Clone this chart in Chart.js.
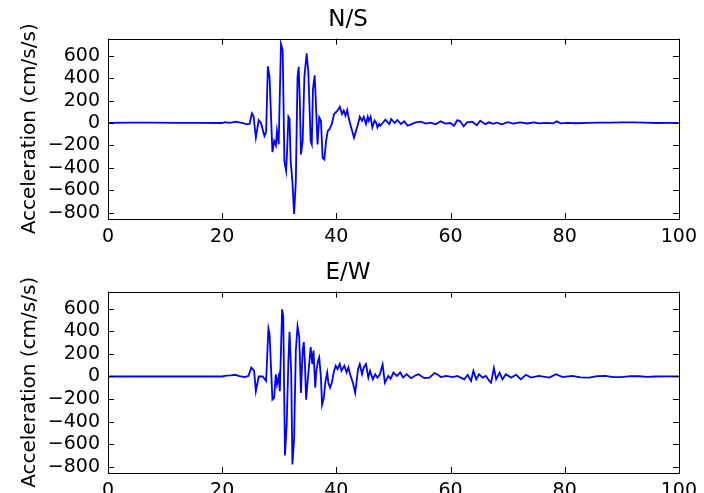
<!DOCTYPE html>
<html>
<head>
<meta charset="utf-8">
<script src="https://cdn.jsdelivr.net/npm/chart.js@4"></script>
<style>
  body { margin: 0; background: #fff; }
  #lienzo { position: relative; width: 704px; height: 493px; overflow: hidden; }
  canvas { position: absolute; left: 0; }
</style>
</head>
<body>
<div id="lienzo">
  <canvas id="graficoNS" width="704" height="247" style="top:0"></canvas>
  <canvas id="graficoEW" width="704" height="246" style="top:247px"></canvas>
</div>
<script>
const tiemposNS = [
  0, 4, 8, 12, 16, 20, 20.5, 21.2, 21.8, 22.3,
  23.0, 23.6, 24.2, 24.8, 25.2, 25.5, 25.9, 26.4, 26.8, 27.4,
  27.7, 28.0, 28.3, 28.8, 29.1, 29.4, 29.6, 29.9, 30.3, 30.6,
  30.9, 31.2, 31.4, 31.6, 31.8, 32.0, 32.3, 32.6, 32.9, 33.2,
  33.4, 33.6, 33.8, 34.1, 34.4, 34.8, 35.1, 35.5, 35.7, 35.9,
  36.2, 36.4, 36.7, 37.0, 37.3, 37.6, 37.9, 38.2, 38.5, 38.8,
  39.2, 39.6, 40.2, 40.6, 41.0, 41.3, 41.6, 41.9, 42.2, 42.6,
  43.1, 43.5, 43.8, 44.1, 44.5, 44.8, 45.2, 45.5, 45.7, 46.0,
  46.3, 46.7, 47.0, 47.2, 47.5, 47.7, 48.1, 48.6, 49.0, 49.3,
  49.6, 50.2, 50.7, 51.3, 51.9, 52.5, 53.4, 53.9, 54.8, 55.7,
  56.5, 57.4, 58.3, 59.1, 60.0, 60.6, 61.2, 61.7, 62.3, 62.9,
  63.8, 64.6, 65.2, 66.1, 66.7, 67.5, 68.1, 69.0, 70.0, 71.0,
  72.2, 73.5, 74.6, 75.5, 76.8, 78.0, 78.6, 79.3, 80.5, 82.0,
  84.0, 86.0, 88.0, 90.0, 92.0, 94.0, 96.0, 98.0, 100
];
const aceleracionNS = [
  2, 4, 3, 2, 1, 0, 8, 2, 6, 12,
  5, 0, -10, -8, 85, 60, -130, 25, 0, -115,
  -80, 505, 410, -260, -160, -200, -70, -190, 705, 650,
  -340, -425, -220, 55, 35, -340, -520, -810, -520, 410,
  500, 200, -280, -160, 410, 620, 450, -160, -190, 300,
  425, 200, -190, 50, 20, -310, -325, -160, -70, -55,
  -10, 80, 110, 145, 80, 110, 65, 115, 35, -40,
  -130, -60, -9, 56, 20, 56, -9, 56, 20, 56,
  -39, 23, 0, -39, -9, -24, 0, 30, 6, -10,
  36, 0, 27, -9, 15, -24, -5, 6, 12, -5,
  3, -12, 15, -5, 0, -25, 25, 15, -30, 5,
  12, -20, 20, -10, 6, -8, 3, -12, 8, -6,
  6, -4, 5, -3, 2, -3, 15, -3, 2, -2,
  2, 3, 4, 6, 5, 3, 0, 1, 0
];

const tiemposEW = [
  0, 5, 10, 15, 20, 20.7, 21.5, 22.3, 23.0, 24.0,
  24.6, 25.1, 25.6, 25.9, 26.4, 27.1, 27.7, 28.1, 28.3, 28.8,
  29.1, 29.4, 29.6, 29.9, 30.1, 30.5, 30.7, 31.0, 31.3, 31.6,
  31.8, 32.1, 32.3, 32.6, 32.9, 33.2, 33.5, 33.8, 34.1, 34.3,
  34.5, 34.7, 35.0, 35.3, 35.5, 35.8, 36.0, 36.3, 36.5, 36.8,
  37.0, 37.3, 37.5, 37.8, 38.1, 38.4, 38.6, 38.9, 39.2, 39.6,
  39.9, 40.2, 40.6, 40.9, 41.4, 41.8, 42.1, 42.5, 42.9, 43.3,
  43.8, 44.1, 44.5, 44.8, 45.2, 45.6, 45.9, 46.4, 46.8, 47.2,
  47.6, 48.1, 48.5, 49.1, 49.5, 50.0, 50.6, 51.2, 51.7, 52.3,
  53.1, 53.9, 54.4, 55.4, 56.3, 57.2, 57.8, 58.3, 59.2, 60.4,
  61.2, 61.8, 62.4, 63.0, 63.6, 64.0, 64.5, 65.0, 65.6, 66.2,
  66.8, 67.1, 67.6, 68.0, 68.6, 69.1, 69.7, 70.6, 71.5, 72.3,
  73.2, 74.1, 75.5, 77.3, 78.5, 79.6, 81.3, 82.8, 84.3, 85.7,
  87.1, 88.5, 90.0, 91.5, 93.0, 94.5, 96.0, 98.0, 100
];
const aceleracionEW = [
  0, 0, 0, 0, 0, 8, 10, 15, 3, -5,
  5, 80, 50, -130, 0, 0, -40, 425, 380, -205,
  -190, 20, -70, 0, -130, 595, 530, -700, -430, 140,
  395, 20, -780, -550, 230, 445, 350, -145, 230, 305,
  110, -205, -25, 140, 260, 110, 230, -100, 50, 140,
  170, -10, -250, -190, -40, 35, -55, -100, -55, 50,
  95, 65, 110, 50, 95, 35, 80, 5, -55, -145,
  65, 110, 20, 80, 110, -10, 50, -25, 20, -10,
  15, 105, -55, 5, -20, 35, 5, 35, -10, 20,
  -15, 10, 20, -15, -10, 30, 15, -5, 5, -5,
  5, -10, -25, 15, -40, 50, -25, 20, -10, 5,
  -40, -55, 75, -25, 35, -25, 20, -10, 15, -25,
  15, -10, 5, -10, 20, -5, 5, -8, -10, 4,
  5, -6, -5, 4, 2, -3, 0, 1, 0
];

const ticksTiempo = [0, 20, 40, 60, 80, 100];
const ticksAceleracion = [-800, -600, -400, -200, 0, 200, 400, 600];

// Marco de los ejes y marcas hacia dentro (estilo matplotlib clásico)
const marcoEjes = {
  id: 'marcoEjes',
  afterDatasetsDraw(chart) {
    const { ctx, chartArea: a, scales } = chart;
    const r = v => Math.round(v) + 0.5;
    ctx.save();
    ctx.strokeStyle = '#000';
    ctx.lineWidth = 1;
    ctx.strokeRect(r(a.left), r(a.top), Math.round(a.right - a.left), Math.round(a.bottom - a.top));
    ctx.beginPath();
    scales.x.ticks.forEach(t => {
      const px = r(scales.x.getPixelForValue(t.value));
      ctx.moveTo(px, a.bottom); ctx.lineTo(px, a.bottom - 6);
      ctx.moveTo(px, a.top); ctx.lineTo(px, a.top + 6);
    });
    scales.y.ticks.forEach(t => {
      const py = r(scales.y.getPixelForValue(t.value));
      ctx.moveTo(a.left, py); ctx.lineTo(a.left + 6, py);
      ctx.moveTo(a.right, py); ctx.lineTo(a.right - 6, py);
    });
    ctx.stroke();
    ctx.restore();
  }
};

function crearGrafico(id, titulo, tiempos, valores, padTitulo, altoEjeX) {
  const puntos = tiempos.map((t, i) => ({ x: t, y: valores[i] }));
  return new Chart(document.getElementById(id), {
    type: 'line',
    data: {
      datasets: [{
        data: puntos,
        borderColor: '#0000ff',
        borderWidth: 1.8,
        pointRadius: 0,
        tension: 0,
        fill: false
      }]
    },
    options: {
      responsive: false,
      animation: false,
      devicePixelRatio: 1,
      layout: { padding: { left: 16, right: 24, top: 0, bottom: 0 } },
      plugins: {
        legend: { display: false },
        tooltip: { enabled: false },
        title: {
          display: true,
          text: titulo,
          color: '#000',
          font: { family: 'DejaVu Sans', size: 23, weight: 'normal' },
          padding: padTitulo
        }
      },
      scales: {
        x: {
          type: 'linear',
          min: 0,
          max: 100,
          grid: { display: false, drawTicks: false },
          border: { display: false },
          afterBuildTicks: s => { s.ticks = ticksTiempo.map(v => ({ value: v })); },
          afterFit: s => { s.height = altoEjeX; },
          ticks: {
            color: '#000',
            font: { family: 'DejaVu Sans', size: 19 },
            padding: 7,
            maxRotation: 0,
            autoSkip: false
          }
        },
        y: {
          min: -855,
          max: 752,
          grid: { display: false, drawTicks: false },
          border: { display: false },
          afterBuildTicks: s => { s.ticks = ticksAceleracion.map(v => ({ value: v })); },
          afterFit: s => { s.width = 92; },
          ticks: {
            color: '#000',
            font: { family: 'DejaVu Sans', size: 19 },
            padding: 8,
            autoSkip: false,
            callback: v => v < 0 ? '\u2212' + Math.abs(v) : String(v)
          },
          title: {
            display: true,
            text: 'Acceleration (cm/s/s)',
            color: '#000',
            font: { family: 'DejaVu Sans', size: 20 },
            padding: { top: 2, bottom: 0 }
          }
        }
      }
    },
    plugins: [marcoEjes]
  });
}

crearGrafico('graficoNS', 'N/S', tiemposNS, aceleracionNS, { top: 6, bottom: 5 }, 28);
crearGrafico('graficoEW', 'E/W', tiemposEW, aceleracionEW, { top: 12, bottom: 5 }, 20);
</script>
</body>
</html>
